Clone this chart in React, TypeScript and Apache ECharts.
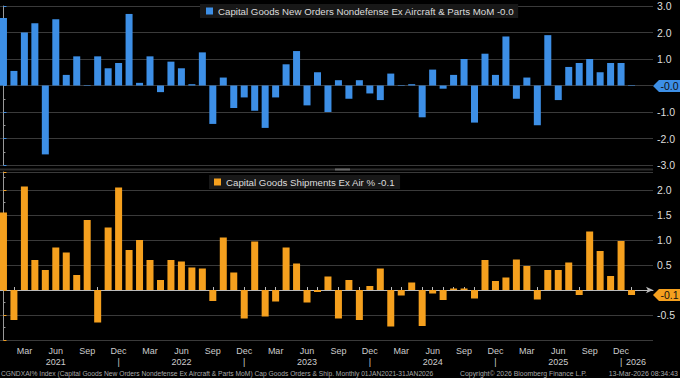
import React, { useEffect, useRef } from 'react';
import * as echarts from 'echarts';

const categories = [
  'Jan 2021', 'Feb 2021', 'Mar 2021', 'Apr 2021', 'May 2021', 'Jun 2021', 'Jul 2021', 'Aug 2021', 'Sep 2021', 'Oct 2021', 'Nov 2021', 'Dec 2021',
  'Jan 2022', 'Feb 2022', 'Mar 2022', 'Apr 2022', 'May 2022', 'Jun 2022', 'Jul 2022', 'Aug 2022', 'Sep 2022', 'Oct 2022', 'Nov 2022', 'Dec 2022',
  'Jan 2023', 'Feb 2023', 'Mar 2023', 'Apr 2023', 'May 2023', 'Jun 2023', 'Jul 2023', 'Aug 2023', 'Sep 2023', 'Oct 2023', 'Nov 2023', 'Dec 2023',
  'Jan 2024', 'Feb 2024', 'Mar 2024', 'Apr 2024', 'May 2024', 'Jun 2024', 'Jul 2024', 'Aug 2024', 'Sep 2024', 'Oct 2024', 'Nov 2024', 'Dec 2024',
  'Jan 2025', 'Feb 2025', 'Mar 2025', 'Apr 2025', 'May 2025', 'Jun 2025', 'Jul 2025', 'Aug 2025', 'Sep 2025', 'Oct 2025', 'Nov 2025', 'Dec 2025',
  'Jan 2026',
];

const ordersMoM = [
  2.55, 0.55, 2.0, 2.35, -2.6, 2.5, 0.4, 1.1, 0.02, 1.1, 0.65, 0.85,
  2.7, 0.1, 1.1, -0.25, 0.9, 0.65, 0.05, 1.25, -1.45, 0.3, -0.85, -0.45,
  -0.95, -1.6, -0.45, 0.8, 1.3, -0.75, 0.5, -1.0, 0.2, -0.5, 0.2, -0.3,
  -0.55, 0.45, 0.02, 0.05, -1.2, 0.6, -0.12, 0.4, 1.0, -1.4, 1.2, 0.4,
  1.85, -0.5, 0.3, -1.5, 1.9, -0.55, 0.7, 0.85, 1.0, 0.5, 0.85, 0.85,
  -0.02,
];

const shipments = [
  1.55, -0.6, 2.07, 0.6, 0.4, 0.85, 0.75, 0.3, 1.4, -0.65, 1.25, 2.05,
  0.8, 1.0, 0.6, 0.2, 0.6, 0.57, 0.45, 0.43, -0.22, 1.05, 0.35, -0.57,
  0.97, -0.53, -0.23, 0.85, 0.53, -0.25, -0.04, 0.27, -0.57, 0.2, -0.6, 0.08,
  0.43, -0.73, -0.11, 0.15, -0.72, -0.07, -0.2, 0.03, 0.03, -0.17, 0.6, 0.18,
  0.25, 0.61, 0.48, -0.19, 0.4, 0.4, 0.55, -0.1, 1.17, 0.78, 0.28, 0.98,
  -0.1,
];

const ordersName = 'Capital Goods New Orders Nondefense Ex Aircraft & Parts MoM';
const shipName = 'Capital Goods Shipments Ex Air %';

const footerLeft = 'CGNDXAI% Index (Capital Goods New Orders Nondefense Ex Aircraft & Parts MoM) Cap Goods Orders & Ship. Monthly 01JAN2021-31JAN2026';
const footerMid = 'Copyright\u00A9 2026 Bloomberg Finance L.P.';
const footerRight = '13-Mar-2026 08:34:43';

const BLUE = '#3d8fe6';
const ORANGE = '#f5a01e';
const FONT = '"Liberation Sans", Arial, sans-serif';
const GRID_COLOR = '#3a3a3a';

export default function App() {
  const ref = useRef<HTMLDivElement>(null);

  useEffect(() => {
    document.body.style.margin = '0';
    document.body.style.background = '#000';
    if (!ref.current) return;
    const chart = echarts.init(ref.current, undefined, { renderer: 'svg' });

    const idx = categories.map((_, i) => i);
    const lastIdx = categories.length - 1;
    const monthOf = (i: number) => categories[i].split(' ')[0];
    const yearOf = (i: number) => categories[i].split(' ')[1];
    const labelIdx = idx.filter((i) => ['Mar', 'Jun', 'Sep', 'Dec'].includes(monthOf(i)));
    const decIdx = idx.filter((i) => monthOf(i) === 'Dec');
    const xMin = -0.33;
    const xMax = 62.05;

    const lastOrders = ordersMoM[ordersMoM.length - 1];
    const lastShip = shipments[shipments.length - 1];

    const xLabel = (v: number) => {
      const i = Math.round(v);
      if (!categories[i]) return '';
      const m = monthOf(i);
      return m === 'Jun' ? 'Jun\n' + yearOf(i) : m;
    };

    const legendBase = {
      icon: 'rect',
      itemWidth: 7,
      itemHeight: 7,
      backgroundColor: '#181818',
      textStyle: { color: '#dddddd', fontSize: 9.7, fontFamily: FONT },
      selectedMode: false,
    };

    const labelStyle = {
      color: '#cccccc',
      fontSize: 9,
      lineHeight: 11,
      fontFamily: FONT,
      showMinLabel: true,
      showMaxLabel: true,
    };

    const extraAxis = {
      type: 'value',
      gridIndex: 1,
      position: 'bottom',
      min: xMin,
      max: xMax,
      offset: 2,
      axisLine: { show: false },
      axisTick: { show: false },
      splitLine: { show: false },
    };

    chart.setOption({
      animation: false,
      backgroundColor: '#000000',
      grid: [
        { left: 0, right: 27, top: 6, height: 159 },
        { left: 0, right: 27, top: 172, height: 168 },
      ],
      legend: [
        {
          ...legendBase,
          data: [ordersName],
          left: 200,
          top: 4,
          padding: [2, 4, 2, 6],
          formatter: (n: string) => n + ' ' + lastOrders.toFixed(1),
        },
        {
          ...legendBase,
          data: [shipName],
          left: 209,
          top: 175,
          padding: [2, 5, 2, 5],
          formatter: (n: string) => n + ' ' + lastShip.toFixed(1),
        },
      ],
      xAxis: [
        { type: 'value', gridIndex: 0, min: xMin, max: xMax, show: false },
        {
          type: 'value',
          gridIndex: 1,
          position: 'bottom',
          min: xMin,
          max: xMax,
          offset: 2,
          axisLine: { show: true, lineStyle: { color: '#bbbbbb' }, symbol: ['none', 'arrow'], symbolSize: [5, 7] },
          axisTick: { show: true, inside: true, length: 3, customValues: idx, lineStyle: { color: '#bbbbbb' } },
          axisLabel: { ...labelStyle, margin: 3, customValues: labelIdx, formatter: xLabel },
          splitLine: { show: false },
        },
        {
          ...extraAxis,
          axisLabel: { ...labelStyle, margin: 14, customValues: decIdx, formatter: () => '|' },
        },
        {
          ...extraAxis,
          axisLabel: {
            ...labelStyle,
            margin: 14,
            padding: [0, 0, 0, 9],
            customValues: [lastIdx],
            formatter: (v: number) => yearOf(Math.round(v)),
          },
        },
      ],
      yAxis: [
        {
          type: 'value',
          gridIndex: 0,
          position: 'right',
          min: -3,
          max: 3,
          interval: 1,
          axisLine: { show: true, lineStyle: { color: '#999999' } },
          axisTick: { show: true, length: 3, lineStyle: { color: BLUE } },
          minorTick: { show: true, splitNumber: 2, length: 2, lineStyle: { color: '#999999' } },
          axisLabel: {
            color: '#dddddd', fontSize: 10.5, margin: 4, fontFamily: FONT,
            formatter: (v: number) => (Math.abs(v) < 1e-9 ? '' : v.toFixed(1)),
          },
          splitLine: { show: true, lineStyle: { color: GRID_COLOR } },
        },
        {
          type: 'value',
          gridIndex: 1,
          position: 'right',
          min: -1,
          max: 2.36,
          interval: 0.5,
          axisLine: { show: true, lineStyle: { color: '#999999' } },
          axisTick: { show: true, length: 3, lineStyle: { color: ORANGE } },
          minorTick: { show: true, splitNumber: 2, length: 2, lineStyle: { color: '#999999' } },
          axisLabel: {
            color: '#dddddd',
            fontSize: 10.5,
            margin: 4,
            fontFamily: FONT,
            formatter: (v: number) => (v < -0.9 || v > 2.1 || Math.abs(v) < 1e-9 ? '' : v.toFixed(1)),
          },
          splitLine: { show: true, lineStyle: { color: GRID_COLOR } },
        },
      ],
      series: [
        {
          type: 'bar',
          name: ordersName,
          xAxisIndex: 0,
          yAxisIndex: 0,
          barWidth: 7,
          itemStyle: { color: BLUE },
          data: ordersMoM.map((v, i) => [i, v]),
        },
        {
          type: 'bar',
          name: shipName,
          xAxisIndex: 1,
          yAxisIndex: 1,
          barWidth: 7,
          itemStyle: { color: ORANGE },
          data: shipments.map((v, i) => [i, v]),
        },
      ],
    });

    const yO = chart.convertToPixel({ yAxisIndex: 0 }, lastOrders) as unknown as number;
    const yS = chart.convertToPixel({ yAxisIndex: 1 }, lastShip) as unknown as number;
    const flag = (y: number, color: string, text: string) => [
      {
        type: 'polygon',
        z: 100,
        shape: { points: [[653, y], [659, y - 6], [680, y - 6], [680, y + 6], [659, y + 6]] },
        style: { fill: color },
      },
      {
        type: 'text',
        z: 101,
        x: 669.5,
        y: y,
        style: { text, fill: '#101010', font: `10.5px ${FONT}`, align: 'center', verticalAlign: 'middle' },
      },
    ];

    chart.setOption({
      graphic: [
        { type: 'rect', z: 50, shape: { x: 0, y: 168.5, width: 653, height: 2 }, style: { fill: '#2c2c2c' } },
        { type: 'rect', z: 51, shape: { x: 335, y: 168.5, width: 15, height: 2 }, style: { fill: '#666666' } },
        ...flag(yO, BLUE, lastOrders.toFixed(1)),
        ...flag(yS, ORANGE, lastShip.toFixed(1)),
        {
          type: 'text', x: 1, y: 373,
          style: { text: footerLeft, fill: '#aaaaaa', font: `6.7px ${FONT}`, verticalAlign: 'middle' },
        },
        {
          type: 'text', x: 460, y: 373,
          style: { text: footerMid, fill: '#aaaaaa', font: `6.9px ${FONT}`, verticalAlign: 'middle' },
        },
        {
          type: 'text', x: 678, y: 373,
          style: { text: footerRight, fill: '#aaaaaa', font: `7px ${FONT}`, align: 'right', verticalAlign: 'middle' },
        },
      ],
    });

    return () => chart.dispose();
  }, []);

  return <div ref={ref} style={{ width: 680, height: 378, background: '#000' }} />;
}
